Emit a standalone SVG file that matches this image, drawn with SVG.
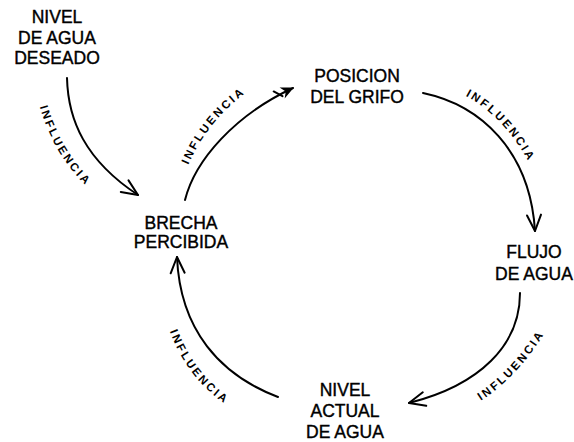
<svg xmlns="http://www.w3.org/2000/svg" width="574" height="442" viewBox="0 0 574 442">
<style>
.node{font-family:"Liberation Sans","DejaVu Sans",sans-serif;font-size:17.5px;fill:#000;stroke:#000;stroke-width:0.4;text-anchor:middle}
.edge{fill:none;stroke:#000;stroke-width:2;stroke-linecap:round}
.lbl{font-family:"Liberation Sans","DejaVu Sans",sans-serif;font-size:11.5px;font-weight:bold;letter-spacing:2.4px;fill:#000}
.guide{fill:none;stroke:none}
</style>
<defs>
<marker id="v" markerUnits="userSpaceOnUse" markerWidth="40" markerHeight="40" viewBox="-20 -20 40 40" refX="0" refY="0" orient="auto">
<path d="M-16,-7 L0,0 L-16,7" fill="none" stroke="#000" stroke-width="2" stroke-linecap="round" stroke-linejoin="round"/>
</marker>
<marker id="f" markerUnits="userSpaceOnUse" markerWidth="40" markerHeight="40" viewBox="-25 -20 40 40" refX="0" refY="0" orient="auto">
<polygon points="1,0 -12,-6 -8,0 -12,6" fill="#000"/>
<path d="M-19,-5 L-13,3" fill="none" stroke="#000" stroke-width="2" stroke-linecap="round"/>
</marker>
<path id="p1" class="guide" d="M37,97 Q52,157 94,193"/>
<path id="p2" class="guide" d="M185,173 Q206,119 253,88"/>
<path id="p3" class="guide" d="M458,92 Q504,113 533,170"/>
<path id="p4" class="guide" d="M474,405 Q516,381 549,326"/>
<path id="p5" class="guide" d="M167,323 Q185,380 233,409"/>
</defs>
<rect width="574" height="442" fill="#fff"/>
<g id="connectors">
<path class="edge" d="M67,78 C68,120 85,160 138,195" marker-end="url(#v)"/>
<path class="edge" d="M185,200 C195,160 235,115 293,88" marker-end="url(#f)"/>
<path class="edge" d="M423,93 C480,105 530,150 535,231" marker-end="url(#v)"/>
<path class="edge" d="M520,293 C520,345 480,385 409,403" marker-end="url(#v)"/>
<path class="edge" d="M278,397 C220,375 180,330 177,257" marker-end="url(#v)"/>
<text class="lbl"><textPath href="#p1" startOffset="50%" text-anchor="middle">INFLUENCIA</textPath></text>
<text class="lbl"><textPath href="#p2" startOffset="50%" text-anchor="middle">INFLUENCIA</textPath></text>
<text class="lbl"><textPath href="#p3" startOffset="50%" text-anchor="middle">INFLUENCIA</textPath></text>
<text class="lbl"><textPath href="#p4" startOffset="50%" text-anchor="middle">INFLUENCIA</textPath></text>
<text class="lbl"><textPath href="#p5" startOffset="50%" text-anchor="middle">INFLUENCIA</textPath></text>
</g>
<g id="nivel-deseado">
<text class="node" x="57" y="23">NIVEL</text>
<text class="node" x="57" y="44">DE AGUA</text>
<text class="node" x="57" y="64">DESEADO</text>
</g>
<g id="posicion-grifo">
<text class="node" x="357" y="82">POSICION</text>
<text class="node" x="357" y="103">DEL GRIFO</text>
</g>
<g id="flujo-agua">
<text class="node" x="534" y="258">FLUJO</text>
<text class="node" x="534" y="280">DE AGUA</text>
</g>
<g id="nivel-actual">
<text class="node" x="345" y="396">NIVEL</text>
<text class="node" x="345" y="417">ACTUAL</text>
<text class="node" x="345" y="438">DE AGUA</text>
</g>
<g id="brecha">
<text class="node" x="181" y="229">BRECHA</text>
<text class="node" x="181" y="248">PERCIBIDA</text>
</g>
</svg>
